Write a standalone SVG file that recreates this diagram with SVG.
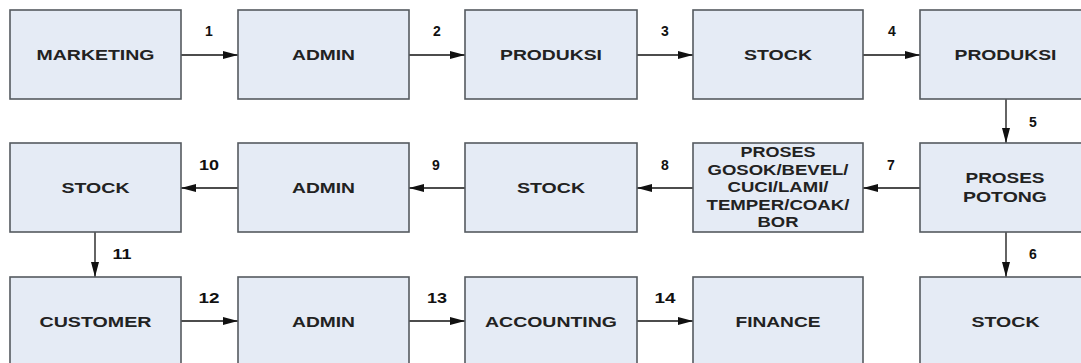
<svg xmlns="http://www.w3.org/2000/svg" width="1081" height="363" viewBox="0 0 1081 363">
<style>
.box{fill:#e5ebf5;stroke:#555a60;stroke-width:1.6}
.t{font-family:"Liberation Sans",Arial,sans-serif;font-weight:bold;font-size:15px;fill:#222;text-anchor:middle}
.p{font-family:"Liberation Sans",Arial,sans-serif;font-weight:bold;font-size:14px;fill:#222;text-anchor:middle}
.n{font-family:"Liberation Sans",Arial,sans-serif;font-weight:bold;font-size:14px;fill:#111;text-anchor:middle}
.c{stroke:#111;stroke-width:1.3;fill:none;marker-end:url(#ah)}
</style>
<defs>
<marker id="ah" markerUnits="userSpaceOnUse" markerWidth="16" markerHeight="10" refX="15" refY="4" orient="auto">
<path d="M0,0 L15,4 L0,8 z" fill="#111"/>
</marker>
</defs>
<rect width="1081" height="363" fill="#fff"/>
<g id="connectors">
<line class="c" x1="181" y1="55" x2="238" y2="55"/>
<line class="c" x1="409" y1="55" x2="465" y2="55"/>
<line class="c" x1="637" y1="55" x2="693" y2="55"/>
<line class="c" x1="863" y1="55" x2="920" y2="55"/>
<line class="c" x1="1006" y1="99" x2="1006" y2="143"/>
<line class="c" x1="1006" y1="232" x2="1006" y2="277"/>
<line class="c" x1="920" y1="188" x2="863" y2="188"/>
<line class="c" x1="693" y1="188" x2="637" y2="188"/>
<line class="c" x1="465" y1="188" x2="409" y2="188"/>
<line class="c" x1="238" y1="188" x2="181" y2="188"/>
<line class="c" x1="95" y1="232" x2="95" y2="277"/>
<line class="c" x1="181" y1="321" x2="238" y2="321"/>
<line class="c" x1="409" y1="321" x2="465" y2="321"/>
<line class="c" x1="637" y1="321" x2="693" y2="321"/>
<text class="n" x="209" y="36">1</text>
<text class="n" x="437" y="36">2</text>
<text class="n" x="665" y="36">3</text>
<text class="n" x="892" y="36">4</text>
<text class="n" x="1033" y="127">5</text>
<text class="n" x="1033" y="259">6</text>
<text class="n" x="891" y="170">7</text>
<text class="n" x="665" y="170">8</text>
<text class="n" x="436" y="170">9</text>
<text class="n" x="209" y="170" textLength="20" lengthAdjust="spacingAndGlyphs">10</text>
<text class="n" x="122" y="259" textLength="19" lengthAdjust="spacingAndGlyphs">11</text>
<text class="n" x="209" y="303" textLength="21" lengthAdjust="spacingAndGlyphs">12</text>
<text class="n" x="437" y="303" textLength="20" lengthAdjust="spacingAndGlyphs">13</text>
<text class="n" x="665" y="303" textLength="21" lengthAdjust="spacingAndGlyphs">14</text>
</g>
<g id="n-marketing"><rect class="box" x="10" y="10" width="171" height="89"/><text class="t" x="95.5" y="60" textLength="118" lengthAdjust="spacingAndGlyphs">MARKETING</text></g>
<g id="n-admin1"><rect class="box" x="238" y="10" width="171" height="89"/><text class="t" x="323.5" y="60" textLength="63" lengthAdjust="spacingAndGlyphs">ADMIN</text></g>
<g id="n-produksi1"><rect class="box" x="465" y="10" width="172" height="89"/><text class="t" x="551" y="60" textLength="102" lengthAdjust="spacingAndGlyphs">PRODUKSI</text></g>
<g id="n-stock1"><rect class="box" x="693" y="10" width="170" height="89"/><text class="t" x="778" y="60" textLength="68" lengthAdjust="spacingAndGlyphs">STOCK</text></g>
<g id="n-produksi2"><rect class="box" x="920" y="10" width="171" height="89"/><text class="t" x="1005.5" y="60" textLength="102" lengthAdjust="spacingAndGlyphs">PRODUKSI</text></g>
<g id="n-potong"><rect class="box" x="920" y="143" width="171" height="89"/><text class="t" x="1005" y="183" textLength="79" lengthAdjust="spacingAndGlyphs">PROSES</text><text class="t" x="1005" y="202" textLength="84" lengthAdjust="spacingAndGlyphs">POTONG</text></g>
<g id="n-proses"><rect class="box" x="693" y="143" width="170" height="89"/>
<text class="p" x="778" y="157" textLength="75" lengthAdjust="spacingAndGlyphs">PROSES</text>
<text class="p" x="778" y="174.5" textLength="141" lengthAdjust="spacingAndGlyphs">GOSOK/BEVEL/</text>
<text class="p" x="778" y="192" textLength="101" lengthAdjust="spacingAndGlyphs">CUCI/LAMI/</text>
<text class="p" x="778" y="209.5" textLength="143" lengthAdjust="spacingAndGlyphs">TEMPER/COAK/</text>
<text class="p" x="778" y="227" textLength="41" lengthAdjust="spacingAndGlyphs">BOR</text></g>
<g id="n-stock2"><rect class="box" x="465" y="143" width="172" height="89"/><text class="t" x="551" y="193" textLength="68" lengthAdjust="spacingAndGlyphs">STOCK</text></g>
<g id="n-admin2"><rect class="box" x="238" y="143" width="171" height="89"/><text class="t" x="323.5" y="193" textLength="63" lengthAdjust="spacingAndGlyphs">ADMIN</text></g>
<g id="n-stock3"><rect class="box" x="10" y="143" width="171" height="89"/><text class="t" x="95.5" y="193" textLength="68" lengthAdjust="spacingAndGlyphs">STOCK</text></g>
<g id="n-customer"><rect class="box" x="10" y="277" width="171" height="89"/><text class="t" x="95.5" y="327" textLength="112" lengthAdjust="spacingAndGlyphs">CUSTOMER</text></g>
<g id="n-admin3"><rect class="box" x="238" y="277" width="171" height="89"/><text class="t" x="323.5" y="327" textLength="63" lengthAdjust="spacingAndGlyphs">ADMIN</text></g>
<g id="n-accounting"><rect class="box" x="465" y="277" width="172" height="89"/><text class="t" x="551" y="327" textLength="132" lengthAdjust="spacingAndGlyphs">ACCOUNTING</text></g>
<g id="n-finance"><rect class="box" x="693" y="277" width="170" height="89"/><text class="t" x="778" y="327" textLength="85" lengthAdjust="spacingAndGlyphs">FINANCE</text></g>
<g id="n-stock4"><rect class="box" x="920" y="277" width="171" height="89"/><text class="t" x="1005.5" y="327" textLength="68" lengthAdjust="spacingAndGlyphs">STOCK</text></g>
</svg>
